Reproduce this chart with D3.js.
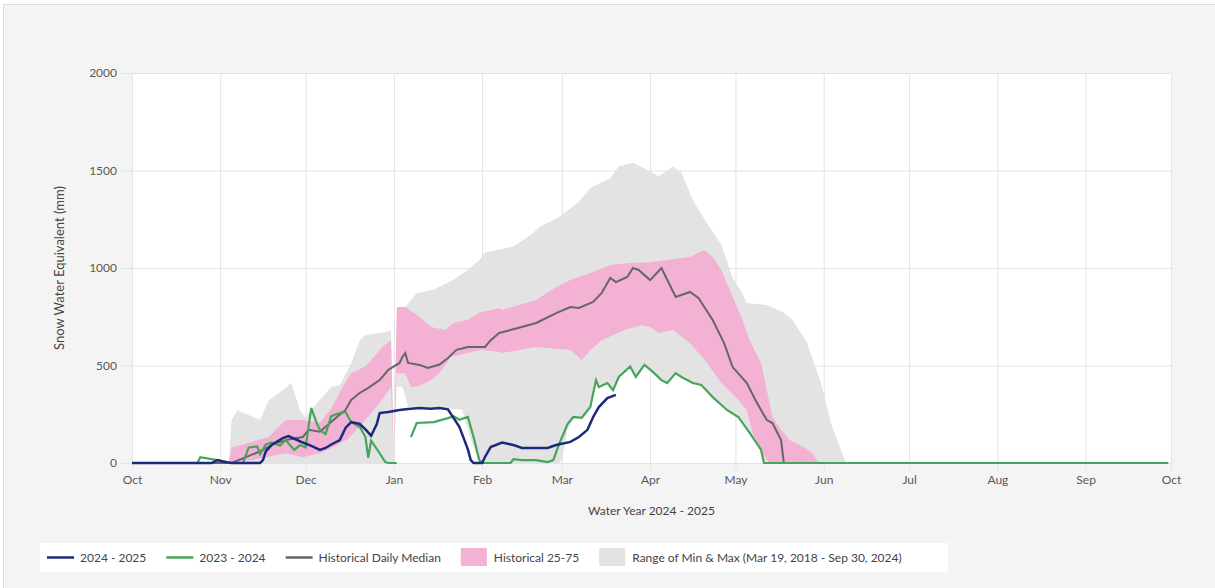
<!DOCTYPE html>
<html>
<head>
<meta charset="utf-8">
<script src="https://cdn.jsdelivr.net/npm/d3@7/dist/d3.min.js"></script>
<style>
  body { margin: 0; background: #fff; }
  svg { display: block; font-family: Lato, "Open Sans", sans-serif; }
</style>
</head>
<body>
<svg id="chart" width="1215" height="588"></svg>
<script>
// ---- data ----
const yTicks = [0, 500, 1000, 1500, 2000];
const monthTicks = ["2024-10-01", "2024-11-01", "2024-12-01", "2025-01-01", "2025-02-01", "2025-03-01",
  "2025-04-01", "2025-05-01", "2025-06-01", "2025-07-01", "2025-08-01", "2025-09-01", "2025-10-01"];

// range of min & max (upper edge)
const maxSeries = [
  ["2024-11-04", 0], ["2024-11-05", 220], ["2024-11-07", 270], ["2024-11-11", 246], ["2024-11-15", 220],
  ["2024-11-18", 320], ["2024-11-23", 375], ["2024-11-26", 410], ["2024-11-29", 270], ["2024-12-01", 235],
  ["2024-12-06", 325], ["2024-12-10", 390], ["2024-12-13", 400], ["2024-12-17", 510], ["2024-12-20", 630],
  ["2024-12-22", 656], ["2024-12-29", 670], ["2024-12-31", 680], ["2025-01-01", 0], ["2025-01-03", 800],
  ["2025-01-05", 800], ["2025-01-09", 870], ["2025-01-15", 890], ["2025-01-22", 940], ["2025-01-27", 990],
  ["2025-01-31", 1040], ["2025-02-02", 1080], ["2025-02-12", 1110], ["2025-02-19", 1180], ["2025-02-21", 1210],
  ["2025-02-28", 1260], ["2025-03-07", 1340], ["2025-03-11", 1410], ["2025-03-18", 1460], ["2025-03-21", 1520],
  ["2025-03-26", 1540], ["2025-03-30", 1510], ["2025-04-04", 1470], ["2025-04-09", 1520], ["2025-04-12", 1490],
  ["2025-04-16", 1350], ["2025-04-21", 1230], ["2025-04-26", 1120], ["2025-04-30", 950], ["2025-05-03", 880],
  ["2025-05-05", 820], ["2025-05-12", 810], ["2025-05-18", 770], ["2025-05-21", 735], ["2025-05-26", 620],
  ["2025-05-31", 410], ["2025-06-04", 185], ["2025-06-08", 30], ["2025-06-09", 0]
];
// range of min & max (lower edge)
const minSeries = [
  ["2024-11-04", 0], ["2024-12-31", 0], ["2025-01-01", 0], ["2025-01-02", 390], ["2025-01-04", 390],
  ["2025-01-06", 290], ["2025-01-25", 275], ["2025-01-28", 120], ["2025-01-31", 0], ["2025-02-28", 0],
  ["2025-03-01", 15], ["2025-03-03", 170], ["2025-03-05", 225], ["2025-03-08", 230], ["2025-03-11", 285],
  ["2025-03-13", 420], ["2025-03-15", 395], ["2025-03-17", 405], ["2025-03-19", 375], ["2025-03-21", 440],
  ["2025-03-25", 490], ["2025-03-27", 440], ["2025-03-30", 500], ["2025-04-02", 465], ["2025-04-07", 410],
  ["2025-04-10", 455], ["2025-04-12", 440], ["2025-04-16", 410], ["2025-04-19", 395], ["2025-04-23", 335],
  ["2025-04-28", 270], ["2025-05-02", 235], ["2025-05-06", 150], ["2025-05-10", 65], ["2025-05-11", 0],
  ["2025-06-09", 0]
];
// historical 75th percentile
const p75Series = [
  ["2024-11-04", 0], ["2024-11-05", 80], ["2024-11-12", 108], ["2024-11-18", 133], ["2024-11-24", 220],
  ["2024-11-30", 220], ["2024-12-06", 205], ["2024-12-10", 280], ["2024-12-14", 390], ["2024-12-17", 460],
  ["2024-12-22", 495], ["2024-12-28", 595], ["2024-12-31", 630], ["2025-01-01", 0], ["2025-01-02", 800],
  ["2025-01-05", 800], ["2025-01-10", 750], ["2025-01-14", 697], ["2025-01-19", 682], ["2025-01-22", 718],
  ["2025-01-27", 735], ["2025-01-31", 770], ["2025-02-07", 795], ["2025-02-08", 785], ["2025-02-20", 836],
  ["2025-02-27", 903], ["2025-03-04", 938], ["2025-03-11", 974], ["2025-03-18", 1015], ["2025-03-25", 1026],
  ["2025-04-01", 1030], ["2025-04-06", 1040], ["2025-04-15", 1057], ["2025-04-20", 1092], ["2025-04-23", 1057],
  ["2025-04-26", 990], ["2025-04-29", 887], ["2025-05-03", 750], ["2025-05-06", 630], ["2025-05-10", 513],
  ["2025-05-12", 374], ["2025-05-14", 236], ["2025-05-17", 170], ["2025-05-20", 118], ["2025-05-25", 82],
  ["2025-05-28", 51], ["2025-05-30", 5], ["2025-05-31", 0]
];
// historical 25th percentile
const p25Series = [
  ["2024-11-04", 0], ["2024-11-12", 15], ["2024-11-24", 50], ["2024-11-30", 30], ["2024-12-06", 50],
  ["2024-12-11", 82], ["2024-12-16", 125], ["2024-12-22", 220], ["2024-12-27", 307], ["2024-12-31", 390],
  ["2025-01-01", 0], ["2025-01-02", 460], ["2025-01-05", 460], ["2025-01-07", 390], ["2025-01-10", 395],
  ["2025-01-14", 425], ["2025-01-17", 460], ["2025-01-21", 543], ["2025-01-27", 564], ["2025-01-31", 580],
  ["2025-02-07", 570], ["2025-02-08", 564], ["2025-02-20", 595], ["2025-03-04", 580], ["2025-03-08", 528],
  ["2025-03-11", 580], ["2025-03-15", 630], ["2025-03-23", 682], ["2025-03-29", 708], ["2025-04-01", 697],
  ["2025-04-04", 667], ["2025-04-09", 682], ["2025-04-15", 615], ["2025-04-21", 513], ["2025-04-26", 410],
  ["2025-05-02", 323], ["2025-05-05", 272], ["2025-05-07", 154], ["2025-05-10", 67], ["2025-05-12", 15],
  ["2025-05-13", 0], ["2025-05-31", 0]
];
// historical daily median
const medianSeries = [
  ["2024-10-01", 0], ["2024-11-05", 0], ["2024-11-10", 30], ["2024-11-15", 60], ["2024-11-20", 100],
  ["2024-11-25", 120], ["2024-11-30", 133], ["2024-12-02", 170], ["2024-12-06", 160], ["2024-12-12", 236],
  ["2024-12-15", 272], ["2024-12-17", 323], ["2024-12-20", 359], ["2024-12-23", 385], ["2024-12-27", 425],
  ["2024-12-30", 477], ["2025-01-03", 513], ["2025-01-04", 543], ["2025-01-05", 564], ["2025-01-06", 513],
  ["2025-01-10", 503], ["2025-01-13", 487], ["2025-01-17", 505], ["2025-01-20", 538], ["2025-01-23", 580],
  ["2025-01-27", 595], ["2025-02-02", 595], ["2025-02-04", 630], ["2025-02-07", 667], ["2025-02-11", 682],
  ["2025-02-20", 718], ["2025-02-27", 769], ["2025-03-04", 800], ["2025-03-07", 795], ["2025-03-12", 826],
  ["2025-03-15", 872], ["2025-03-18", 949], ["2025-03-20", 928], ["2025-03-24", 954], ["2025-03-26", 1000],
  ["2025-03-28", 990], ["2025-04-01", 938], ["2025-04-05", 1000], ["2025-04-10", 851], ["2025-04-15", 877],
  ["2025-04-18", 846], ["2025-04-23", 733], ["2025-04-27", 615], ["2025-04-30", 492], ["2025-05-05", 410],
  ["2025-05-08", 323], ["2025-05-12", 220], ["2025-05-14", 205], ["2025-05-17", 118], ["2025-05-18", 0],
  ["2025-09-30", 0]
];
// 2023 - 2024 season (null = missing)
const wy2024Series = [
  ["2024-10-01", 0], ["2024-10-24", 0], ["2024-10-25", 30], ["2024-10-29", 20], ["2024-11-02", 8],
  ["2024-11-04", 0], ["2024-11-09", 0], ["2024-11-10", 40], ["2024-11-11", 80], ["2024-11-14", 85],
  ["2024-11-15", 45], ["2024-11-17", 95], ["2024-11-19", 105], ["2024-11-22", 90], ["2024-11-24", 118],
  ["2024-11-27", 67], ["2024-11-29", 92], ["2024-12-01", 80], ["2024-12-02", 185], ["2024-12-03", 282],
  ["2024-12-05", 200], ["2024-12-06", 170], ["2024-12-08", 148], ["2024-12-10", 240], ["2024-12-13", 256],
  ["2024-12-15", 262], ["2024-12-17", 210], ["2024-12-20", 185], ["2024-12-22", 133], ["2024-12-23", 26],
  ["2024-12-24", 115], ["2024-12-27", 50], ["2024-12-29", 5], ["2024-12-30", 0], ["2025-01-02", 0],
  ["2025-01-03", null], ["2025-01-07", 133], ["2025-01-09", 205], ["2025-01-15", 210], ["2025-01-20", 230],
  ["2025-01-22", 240], ["2025-01-24", 222], ["2025-01-27", 236], ["2025-01-29", 133], ["2025-01-31", 15],
  ["2025-02-01", 0], ["2025-02-11", 0], ["2025-02-12", 20], ["2025-02-15", 15], ["2025-02-20", 15],
  ["2025-02-24", 5], ["2025-02-26", 15], ["2025-02-28", 95], ["2025-03-03", 200], ["2025-03-05", 236],
  ["2025-03-08", 232], ["2025-03-11", 287], ["2025-03-13", 425], ["2025-03-14", 390], ["2025-03-17", 410],
  ["2025-03-19", 374], ["2025-03-21", 441], ["2025-03-25", 495], ["2025-03-27", 441], ["2025-03-30", 503],
  ["2025-04-02", 467], ["2025-04-05", 425], ["2025-04-07", 410], ["2025-04-10", 461], ["2025-04-12", 441],
  ["2025-04-16", 410], ["2025-04-19", 400], ["2025-04-23", 338], ["2025-04-28", 272], ["2025-05-02", 236],
  ["2025-05-06", 154], ["2025-05-10", 67], ["2025-05-11", 0], ["2025-09-30", 0]
];
// 2024 - 2025 season
const wy2025Series = [
  ["2024-10-01", 0], ["2024-10-29", 0], ["2024-10-31", 15], ["2024-11-02", 8], ["2024-11-05", 0],
  ["2024-11-15", 0], ["2024-11-16", 15], ["2024-11-17", 60], ["2024-11-19", 92], ["2024-11-23", 128],
  ["2024-11-25", 138], ["2024-11-28", 118], ["2024-11-30", 105], ["2024-12-03", 88], ["2024-12-06", 67],
  ["2024-12-08", 77], ["2024-12-10", 95], ["2024-12-13", 118], ["2024-12-15", 180], ["2024-12-17", 210],
  ["2024-12-20", 200], ["2024-12-22", 172], ["2024-12-24", 140], ["2024-12-26", 200], ["2024-12-27", 256],
  ["2024-12-30", 262], ["2025-01-03", 272], ["2025-01-06", 277], ["2025-01-10", 282], ["2025-01-14", 278],
  ["2025-01-17", 282], ["2025-01-20", 275], ["2025-01-22", 230], ["2025-01-24", 185], ["2025-01-27", 70],
  ["2025-01-28", 15], ["2025-01-29", 0], ["2025-02-01", 0], ["2025-02-02", 31], ["2025-02-04", 82],
  ["2025-02-08", 105], ["2025-02-12", 92], ["2025-02-15", 77], ["2025-02-20", 77], ["2025-02-24", 77],
  ["2025-02-27", 92], ["2025-03-04", 108], ["2025-03-07", 133], ["2025-03-10", 170], ["2025-03-12", 236],
  ["2025-03-14", 287], ["2025-03-17", 333], ["2025-03-20", 349]
];

const legendItems = [
  { label: "2024 - 2025", type: "line", color: "#1c2a7d" },
  { label: "2023 - 2024", type: "line", color: "#47a55b" },
  { label: "Historical Daily Median", type: "line", color: "#666666" },
  { label: "Historical 25-75", type: "box", color: "#f3b1d3" },
  { label: "Range of Min & Max (Mar 19, 2018 - Sep 30, 2024)", type: "box", color: "#e3e3e3" }
];

// ---- chart ----
const W = 1215, H = 588;
const plot = { left: 132, right: 1171, top: 73, bottom: 463 };
const parse = d3.timeParse("%Y-%m-%d");
const toPts = (arr) => arr.map(([d, v]) => ({ date: parse(d), v: v }));

const svg = d3.select("#chart");

// card background
svg.append("rect").attr("x", 3.5).attr("y", 4.5).attr("width", W).attr("height", H)
  .attr("fill", "#f4f4f4").attr("stroke", "#dcdcdc");

const x = d3.scaleTime()
  .domain([parse("2024-10-01"), parse("2025-10-01")])
  .range([plot.left, plot.right]);
const y = d3.scaleLinear().domain([0, 2000]).range([plot.bottom, plot.top]);

svg.append("rect")
  .attr("x", plot.left).attr("y", plot.top)
  .attr("width", plot.right - plot.left).attr("height", plot.bottom - plot.top)
  .attr("fill", "#fff");

// gridlines + ticks through axes
const yAxis = svg.append("g")
  .attr("transform", `translate(${plot.right},0)`)
  .call(d3.axisLeft(y).tickValues(yTicks).tickFormat(d3.format("d"))
    .tickSize(plot.right - plot.left + 12).tickPadding(3));
const xAxis = svg.append("g")
  .attr("transform", `translate(0,${plot.top})`)
  .call(d3.axisBottom(x).tickValues(monthTicks.map(parse))
    .tickFormat(d3.timeFormat("%b")).tickSize(plot.bottom - plot.top + 7).tickPadding(5));

[yAxis, xAxis].forEach((g) => {
  g.select(".domain").remove();
  g.selectAll(".tick line").attr("stroke", "#e3e3e3");
  g.selectAll(".tick text").attr("fill", "#595959").style("font-size", "12px")
    .style("font-family", "Lato, sans-serif");
});

const line = d3.line()
  .defined((d) => d.v !== null)
  .x((d) => x(d.date))
  .y((d) => y(d.v));

const bandPath = (upper, lower) =>
  line(toPts(upper)) + line(toPts(lower).reverse()).replace("M", "L") + "Z";

const layer = svg.append("g");
layer.append("path").attr("d", bandPath(maxSeries, minSeries)).attr("fill", "#e3e3e3");
layer.append("path").attr("d", bandPath(p75Series, p25Series)).attr("fill", "#f3b1d3");

layer.append("path").datum(toPts(medianSeries)).attr("d", line)
  .attr("fill", "none").attr("stroke", "#666666").attr("stroke-width", 2);
layer.append("path").datum(toPts(wy2024Series)).attr("d", line)
  .attr("fill", "none").attr("stroke", "#47a55b").attr("stroke-width", 2.2);
layer.append("path").datum(toPts(wy2025Series)).attr("d", line)
  .attr("fill", "none").attr("stroke", "#1c2a7d").attr("stroke-width", 2.5);

// axis titles
svg.append("text")
  .attr("x", (plot.left + plot.right) / 2).attr("y", 515)
  .attr("text-anchor", "middle").attr("fill", "#444").style("font-size", "12px")
  .text("Water Year 2024 - 2025");
svg.append("text")
  .attr("transform", `translate(64,${(plot.top + plot.bottom) / 2}) rotate(-90)`)
  .attr("text-anchor", "middle").attr("fill", "#444").style("font-size", "13px")
  .text("Snow Water Equivalent (mm)");

// legend
const legend = svg.append("g");
legend.append("rect").attr("x", 40).attr("y", 543).attr("width", 908).attr("height", 29).attr("fill", "#fff");
let lx = 47;
legendItems.forEach((it) => {
  if (it.type === "line") {
    legend.append("line").attr("x1", lx).attr("x2", lx + 27).attr("y1", 557.5).attr("y2", 557.5)
      .attr("stroke", it.color).attr("stroke-width", 2.5);
  } else {
    legend.append("rect").attr("x", lx).attr("y", 548).attr("width", 26).attr("height", 18).attr("fill", it.color);
  }
  const t = legend.append("text").attr("x", lx + 33).attr("y", 561.5)
    .attr("fill", "#444").style("font-size", "12px").text(it.label);
  lx += 33 + t.node().getComputedTextLength() + 20;
});
</script>
</body>
</html>
